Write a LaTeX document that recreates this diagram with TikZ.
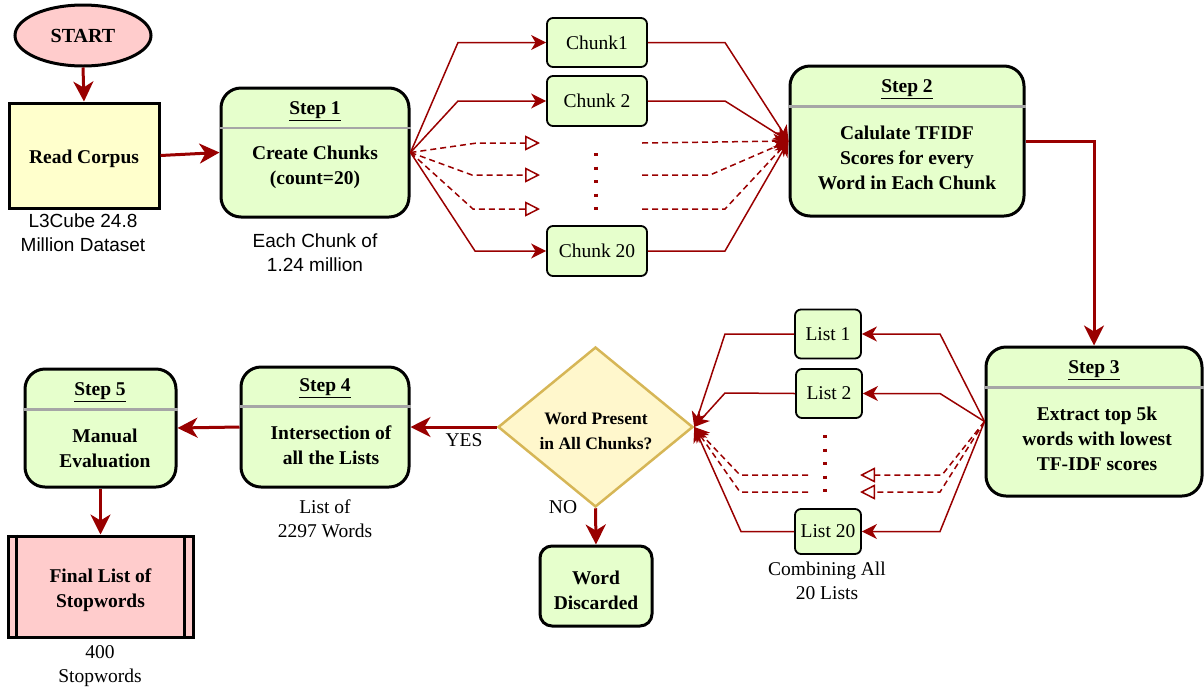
\documentclass[tikz,border=0pt]{standalone}
\usepackage{fontspec}
\setmainfont{Liberation Serif}
\newfontfamily\sansf{Liberation Sans}
\usetikzlibrary{arrows.meta,shapes.geometric}
\definecolor{dred}{HTML}{990000}
\definecolor{gfill}{HTML}{E6FFCC}
\definecolor{yfill}{HTML}{FFFFCC}
\definecolor{pfill}{HTML}{FFCCCC}
\definecolor{dfill}{HTML}{FFF7CC}
\definecolor{dborder}{HTML}{D6B656}
\definecolor{sepgray}{HTML}{A6A6A6}
\tikzset{
  btext/.style={font=\fontsize{19.5}{25}\selectfont\bfseries, align=center, inner sep=0pt},
  rtext/.style={font=\fontsize{19.5}{23.5}\selectfont, align=center, inner sep=0pt},
  stext/.style={font=\sansf\fontsize{19}{23.5}\selectfont, align=center, inner sep=0pt},
  stepbox/.style={draw=black, line width=3pt, rounded corners=20pt, fill=gfill, inner sep=0pt},
  chunkbox/.style={draw=black, line width=1.8pt, rounded corners=6pt, fill=gfill, inner sep=0pt,
     font=\fontsize{19.5}{23.5}\selectfont},
  sepline/.style={draw=sepgray, line width=2.2pt},
  mainarrow/.style={draw=dred, line width=3pt, -{Stealth[length=20pt,width=20pt,inset=6pt]}},
  fan/.style={draw=dred, line width=1.5pt, -{Stealth[length=15pt,width=15pt,inset=4.5pt]}},
  dfanopen/.style={draw=dred, line width=1.5pt, dash pattern=on 6pt off 4pt,
     -{Triangle[open,length=15pt,width=15pt,line width=1.5pt]}},
  dfan/.style={draw=dred, line width=1.5pt, dash pattern=on 6pt off 4pt,
     -{Stealth[length=15pt,width=15pt,inset=4.5pt]}},
  dotcol/.style={draw=dred, line width=3.2pt, dash pattern=on 3pt off 10.5pt},
}
\begin{document}
\begin{tikzpicture}[x=1pt,y=-1pt]
\useasboundingbox (0,0) rectangle (1204,689);

% START and Read Corpus
\node[ellipse, draw=black, line width=3pt, fill=pfill, minimum width=136pt, minimum height=61pt,
  inner sep=0pt, font=\fontsize{20}{24}\selectfont\bfseries] (st) at (83,35.5) {START};
\node[draw=black, line width=3pt, fill=yfill, minimum width=150pt, minimum height=105pt,
  inner sep=0pt] (rc) at (84,155.5) {};
\node[btext] (rct) at (84,158.5) {Read Corpus};
\node[stext] (rcl) at (83,232.5) {L3Cube 24.8\\Million Dataset};

% Step 1
\node[stepbox, minimum width=188pt, minimum height=129pt] (s1) at (315,152.5) {};
\draw[sepline] ([yshift=-41.5pt]s1.north west) -- ([yshift=-41.5pt]s1.north east);
\node[btext] (s1t) at (315,111) {\underline{Step 1}};
\node[btext] (s1b) at (315,167) {Create Chunks\\(count=20)};
\node[stext] (s1l) at (315,252.5) {Each Chunk of\\1.24 million};

% Chunks
\node[chunkbox, minimum width=100pt, minimum height=49pt] (c1) at (597,42.5) {Chunk1};
\node[chunkbox, minimum width=100pt, minimum height=50pt] (c2) at (597,101) {Chunk 2};
\node[chunkbox, minimum width=100pt, minimum height=50pt] (c20) at (597,251) {Chunk 20};

% Step 2
\node[stepbox, minimum width=234pt, minimum height=150pt] (s2) at (907,141) {};
\draw[sepline] ([yshift=-42pt]s2.north west) -- ([yshift=-42pt]s2.north east);
\node[btext] (s2t) at (907,89) {\underline{Step 2}};
\node[btext] (s2b) at (907,158) {Calulate TFIDF\\Scores for every\\Word in Each Chunk};

% Step 3
\node[stepbox, minimum width=216pt, minimum height=149pt] (s3) at (1094,421.5) {};
\draw[sepline] ([yshift=-42pt]s3.north west) -- ([yshift=-42pt]s3.north east);
\node[btext] (s3t) at (1094,370) {\underline{Step 3}};
\node[btext] (s3b) at (1097,439) {Extract top 5k\\words with lowest\\TF-IDF scores};

% Lists
\node[chunkbox, minimum width=66pt, minimum height=49pt] (l1) at (828,334) {List 1};
\node[chunkbox, minimum width=66pt, minimum height=49pt] (l2) at (829,393.5) {List 2};
\node[chunkbox, minimum width=66pt, minimum height=45pt] (l20) at (828,531.5) {List 20};
\node[rtext] (ll) at (827,581) {Combining All\\20 Lists};

% Decision
\node[diamond, draw=dborder, line width=2.5pt, fill=dfill, minimum width=195pt, minimum height=160pt,
  inner sep=0pt] (dia) at (595.5,427) {};
\node[font=\fontsize{17.5}{25}\selectfont\bfseries, align=center, inner sep=0pt] (diat) at (596,431)
  {Word Present\\in All Chunks?};
\node[draw=black, line width=3pt, rounded corners=12pt, fill=gfill, minimum width=112pt,
  minimum height=80pt] (wd) at (596,586) {};
\node[btext] (wdt) at (596,590) {Word\\Discarded};
\node[rtext] (nol) at (563,507) {NO};
\node[rtext] (yesl) at (464,440) {YES};

% Step 4
\node[stepbox, minimum width=168pt, minimum height=120pt] (s4) at (325,427) {};
\draw[sepline] ([yshift=-41pt]s4.north west) -- ([yshift=-41pt]s4.north east);
\node[btext] (s4t) at (325,388) {\underline{Step 4}};
\node[btext] (s4b) at (331,445) {Intersection of\\all the Lists};
\node[rtext] (s4l) at (325,519) {List of\\2297 Words};

% Step 5
\node[stepbox, minimum width=151pt, minimum height=118pt] (s5) at (100.5,428) {};
\draw[sepline] ([yshift=-42pt]s5.north west) -- ([yshift=-42pt]s5.north east);
\node[btext] (s5t) at (100,392) {\underline{Step 5}};
\node[btext] (s5b) at (105,448.5) {Manual\\Evaluation};

% Final list
\node[draw=black, line width=3pt, fill=pfill, minimum width=185pt, minimum height=101pt,
  inner sep=0pt] (fl) at (100.5,586.5) {};
\node[btext] (flt) at (100.5,590) {Final List of\\Stopwords};
\draw[line width=3pt] ([xshift=10pt]fl.north west) -- ([xshift=10pt]fl.south west);
\draw[line width=3pt] ([xshift=-10pt]fl.north east) -- ([xshift=-10pt]fl.south east);
\node[rtext] (fll) at (100,666) {400\\Stopwords};

% Main arrows
\draw[mainarrow] (st.south) -- (rc.north);
\draw[mainarrow] (rc.east) -- (s1.west);
\draw[mainarrow] (s2.east) -| (s3.north);
\draw[mainarrow] (dia.west) -- (s4.east);
\draw[mainarrow] (dia.south) -- (wd.north);
\draw[mainarrow] (s4.west) -- (s5.east);
\draw[mainarrow] (s5.south) -- (fl.north);

% Step1 fan-out to chunks
\draw[fan] (s1.east) -- (458,42.5) -- (c1.west);
\draw[fan] (s1.east) -- (458,101) -- (c2.west);
\draw[fan] (s1.east) -- (475,251) -- (c20.west);
\coordinate (dl1) at (540,143);
\coordinate (dl2) at (540,175);
\coordinate (dl3) at (540,209);
\draw[dfanopen] (s1.east) -- (477,143) -- (dl1);
\draw[dfanopen] (s1.east) -- (472,175) -- (dl2);
\draw[dfanopen] (s1.east) -- (473,209) -- (dl3);
\coordinate (cd1) at (596,153);
\coordinate (cd2) at (596,212);
\draw[dotcol] (cd1) -- (cd2);

% Chunks to Step 2
\draw[fan] (c1.east) -- (725,42.5) -- (s2.west);
\draw[fan] (c2.east) -- (725,101) -- (s2.west);
\draw[fan] (c20.east) -- (725,251) -- (s2.west);
\coordinate (dr1) at (642,143);
\coordinate (dr2) at (642,175);
\coordinate (dr3) at (642,209);
\draw[dfan] (dr1) -- (s2.west);
\draw[dfan] (dr2) -- (710,175) -- (s2.west);
\draw[dfan] (dr3) -- (725,209) -- (s2.west);

% Step 3 fan-out to lists
\draw[fan] (s3.west) -- (940,334) -- (l1.east);
\draw[fan] (s3.west) -- (940,393.5) -- (l2.east);
\draw[fan] (s3.west) -- (940,531.5) -- (l20.east);
\coordinate (lr1) at (860,475);
\coordinate (lr2) at (860,492);
\draw[dfanopen] (s3.west) -- (942,475) -- (lr1);
\draw[dfanopen] (s3.west) -- (940,492) -- (lr2);
\coordinate (ld1) at (825,435);
\coordinate (ld2) at (825,494);
\draw[dotcol] (ld1) -- (ld2);

% Lists to decision
\draw[fan] (l1.west) -- (725,334) -- (dia.east);
\draw[fan] (l2.west) -- (725,393) -- (dia.east);
\draw[fan] (l20.west) -- (741,531.5) -- (dia.east);
\coordinate (ll1) at (808,475);
\coordinate (ll2) at (808,492);
\draw[dfan] (ll1) -- (740,475) -- (dia.east);
\draw[dfan] (ll2) -- (740,492) -- (dia.east);
\end{tikzpicture}
\end{document}
